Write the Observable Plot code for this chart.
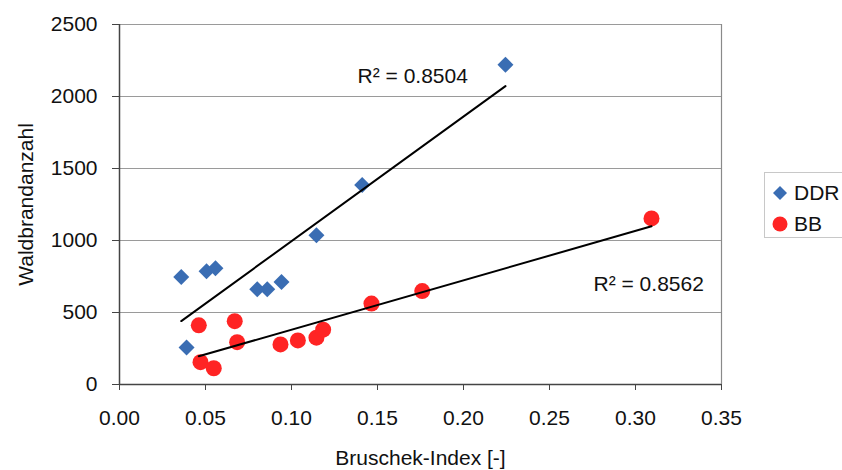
<!DOCTYPE html>
<html>
<head>
<meta charset="utf-8">
<script src="https://cdn.jsdelivr.net/npm/d3@7"></script>
<script src="https://cdn.jsdelivr.net/npm/@observablehq/plot@0.6"></script>
<style>
  html, body { margin: 0; padding: 0; background: #fff; }
  #wrap { position: relative; width: 842px; height: 470px; font-family: "Liberation Sans", Arial, sans-serif; }
  #legend { position: absolute; left: 764px; top: 172px; width: 90px; height: 66px; border: 1px solid #c8c8c8; border-right: none; box-sizing: border-box; background: #fff; }
  .item { position: absolute; left: 0; height: 24px; display: flex; align-items: center; font-size: 21px; color: #111; }
  .item svg { margin-left: 7px; margin-right: 6px; }
</style>
</head>
<body>
<div id="wrap">
  <div id="chart"></div>
  <div id="legend"></div>
</div>
<script>
// Data
const ddrX = [0.0359, 0.0390, 0.0506, 0.0558, 0.0801, 0.0859, 0.0942, 0.1145, 0.1411, 0.2244];
const ddrY = [747, 257, 786, 807, 661, 661, 712, 1037, 1385, 2220];
const bbX = [0.0461, 0.0471, 0.0548, 0.0670, 0.0684, 0.0936, 0.1037, 0.1145, 0.1184, 0.1465, 0.1760, 0.3093];
const bbY = [411, 155, 113, 440, 294, 278, 306, 325, 381, 562, 649, 1153];
const seriesNames = ["DDR", "BB"];
const seriesColors = ["#3a6db3", "#ff2424"];
const xTicks = [0, 0.05, 0.10, 0.15, 0.20, 0.25, 0.30, 0.35];
const yTicks = [0, 500, 1000, 1500, 2000, 2500];
const r2Labels = ["R\u00B2 = 0.8504", "R\u00B2 = 0.8562"];
const r2X = [0.1384, 0.2756];
const r2Y = [2094, 647];

const ddr = ddrX.map((x, i) => ({x, y: ddrY[i]}));
const bb = bbX.map((x, i) => ({x, y: bbY[i]}));
const notes = r2Labels.map((t, i) => ({x: r2X[i], y: r2Y[i], t}));

const chart = Plot.plot({
  width: 842,
  height: 470,
  marginLeft: 119,
  marginRight: 121,
  marginTop: 24,
  marginBottom: 86,
  style: {fontFamily: "'Liberation Sans', Arial, sans-serif", fontSize: "21px", color: "#111", background: "#fff"},
  x: {domain: [0, 0.35]},
  y: {domain: [0, 2500]},
  marks: [
    Plot.gridY(yTicks.slice(1), {stroke: "#9a9a9a", strokeOpacity: 1, strokeWidth: 1.2}),
    Plot.ruleX([0.35], {stroke: "#8a8a8a", strokeWidth: 1.2}),
    Plot.axisX({ticks: xTicks, tickFormat: d3.format(".2f"), tickSize: 6, tickPadding: 20, stroke: "#444",
      label: "Bruschek-Index [-]", labelAnchor: "center", labelArrow: "none", labelOffset: 80, fontSize: 21}),
    Plot.axisY({ticks: yTicks, tickFormat: d3.format("d"), tickSize: 7, tickPadding: 15, stroke: "#444",
      label: "Waldbrandanzahl", labelAnchor: "center", labelArrow: "none", labelOffset: 101, fontSize: 21}),
    Plot.ruleX([0], {stroke: "#444", strokeWidth: 1.5}),
    Plot.ruleY([0], {stroke: "#444", strokeWidth: 1.5}),
    Plot.dot(ddr, {x: "x", y: "y", symbol: "diamond2", r: 7.2, fill: seriesColors[0], stroke: "none"}),
    Plot.dot(bb, {x: "x", y: "y", symbol: "circle", r: 8, fill: seriesColors[1], stroke: "none"}),
    Plot.linearRegressionY(ddr, {x: "x", y: "y", stroke: "#000", strokeWidth: 2, ci: 0}),
    Plot.linearRegressionY(bb, {x: "x", y: "y", stroke: "#000", strokeWidth: 2, ci: 0}),
    Plot.text(notes, {x: "x", y: "y", text: "t", textAnchor: "start", lineAnchor: "bottom", fontSize: 21, fill: "#111"})
  ]
});
document.getElementById("chart").appendChild(chart);

// Legend
const legend = document.getElementById("legend");
seriesNames.forEach((name, i) => {
  const item = document.createElement("div");
  item.className = "item";
  item.style.top = (8 + i * 31) + "px";
  const shape = i === 0
    ? `<svg width="16" height="16" viewBox="0 0 16 16"><path d="M8 1 L15 8 L8 15 L1 8 Z" fill="${seriesColors[i]}"/></svg>`
    : `<svg width="16" height="16" viewBox="0 0 16 16"><circle cx="8" cy="8" r="7.5" fill="${seriesColors[i]}"/></svg>`;
  item.innerHTML = shape + "<span>" + name + "</span>";
  legend.appendChild(item);
});
</script>
</body>
</html>
